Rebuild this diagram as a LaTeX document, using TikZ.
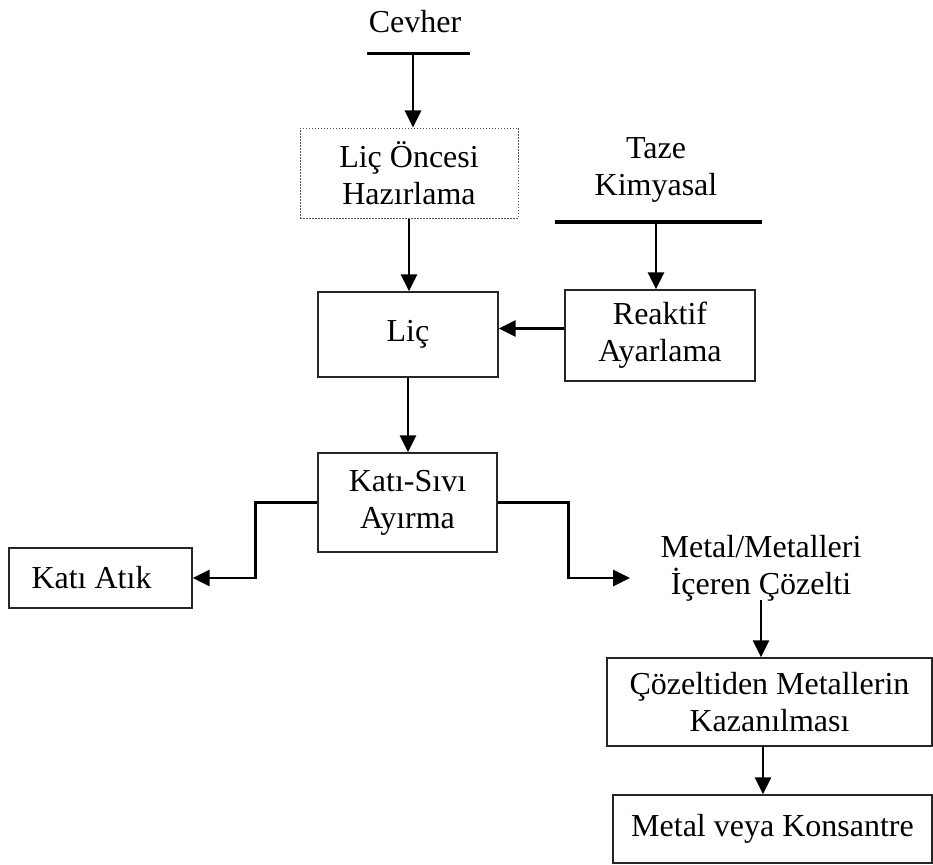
\documentclass[tikz,border=0pt]{standalone}
\usepackage{fontspec}
\setmainfont{Liberation Serif}
\usetikzlibrary{arrows.meta}
\begin{document}
\begin{tikzpicture}[x=1pt,y=-1pt,
  txt/.style={font=\fontsize{32}{37}\selectfont, align=center, inner sep=0pt},
  box/.style={draw=black!85, line width=1.3pt, font=\fontsize{32}{37}\selectfont, align=center, inner sep=0pt},
  dotbox/.style={box, draw=black!65, line width=1pt, dash pattern=on 1.5pt off 1.5pt},
  arr/.style={line width=2.8pt, -{Triangle[length=17pt,width=16pt]}},
  bar/.style={line width=3pt}]
\useasboundingbox (0,0) rectangle (933,864);
% Cevher
\node[txt] (cevher) at (415,22) {Cevher};
\coordinate (cbL) at (367,54);
\coordinate (cbR) at (470,54);
\coordinate (cb) at (413,54);
\draw[bar] (cbL) -- (cbR);
\node[dotbox, minimum width=218pt, minimum height=90pt] (pre) at (409,173) {\raisebox{-7pt}{\parbox{210pt}{\centering Liç Öncesi\\Hazırlama}}};
\draw[arr] (cb) -- (cb |- pre.north);
% Liç
\node[box, minimum width=180pt, minimum height=85pt] (lic) at (408,334.5) {\raisebox{7pt}{Liç}};
\draw[arr] (pre.south) -- (pre.south |- lic.north);
% Taze Kimyasal
\node[txt] (taze) at (656,170) {Taze\\Kimyasal};
\coordinate (tbL) at (555,222);
\coordinate (tbR) at (762,222);
\coordinate (tb) at (656,222);
\draw[bar, line width=4pt] (tbL) -- (tbR);
\node[box, minimum width=190pt, minimum height=91pt] (reak) at (660,335.5) {\raisebox{-6pt}{\parbox{185pt}{\centering Reaktif\\Ayarlama}}};
\draw[arr] (tb) -- (tb |- reak.north);
\draw[arr] ([yshift=7pt]reak.west) -- ([yshift=7pt]reak.west -| lic.east);
% Katı-Sıvı
\node[box, minimum width=179pt, minimum height=99pt] (ks) at (407.5,502.5) {\raisebox{-2pt}{\parbox{175pt}{\centering Katı-Sıvı\\Ayırma}}};
\draw[arr] (lic.south) -- (lic.south |- ks.north);
% Katı Atık
\node[box, minimum width=183pt, minimum height=60pt] (atik) at (100.5,578) {\hspace*{-18pt}Katı Atık};
\draw[arr] (ks.west) -- ++(-62,0) |- (atik.east);
% Solution
\node[txt] (sol) at (761,568) {Metal/Metalleri\\İçeren Çözelti};
\coordinate (soltip) at (630,578);
\draw[arr] (ks.east) -- ++(71,0) |- (soltip);
% Çözeltiden
\node[box, minimum width=325pt, minimum height=88pt] (coz) at (769.5,702) {\raisebox{-4pt}{\parbox{320pt}{\centering Çözeltiden Metallerin\\Kazanılması}}};
\coordinate (solb) at (761,600);
\draw[arr] (solb) -- (solb |- coz.north);
% Metal veya Konsantre
\node[box, minimum width=319pt, minimum height=68pt] (metal) at (772.5,829) {Metal veya Konsantre};
\coordinate (cozb) at (763,746);
\draw[arr] (cozb) -- (cozb |- metal.north);
\end{tikzpicture}
\end{document}
